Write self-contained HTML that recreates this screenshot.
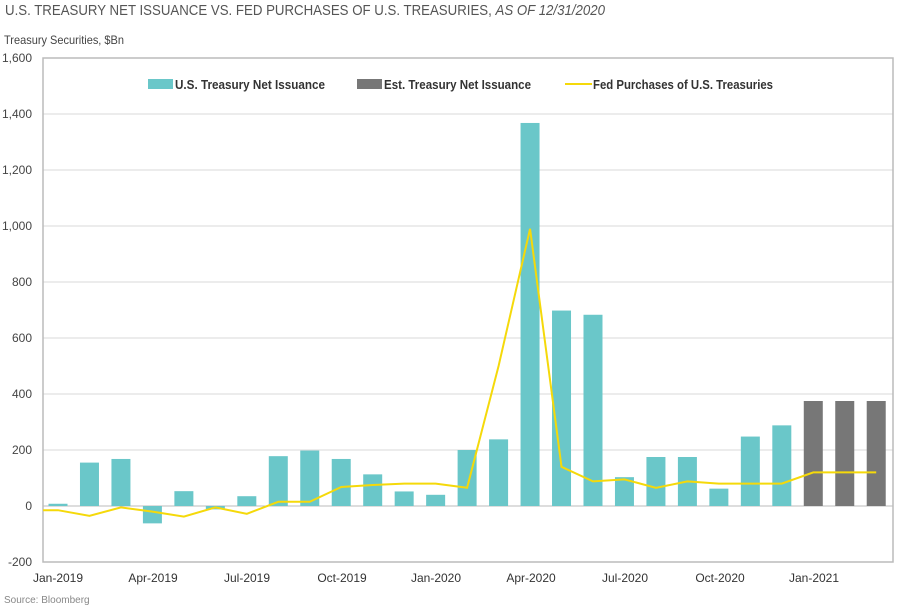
<!DOCTYPE html>
<html><head><meta charset="utf-8"><style>
body{margin:0;background:#fff;}
svg text{font-family:"Liberation Sans",sans-serif;}
</style></head><body>
<svg width="900" height="607" xmlns="http://www.w3.org/2000/svg">
<text x="5" y="15" font-size="14.5" fill="#555" textLength="600" lengthAdjust="spacingAndGlyphs">U.S. TREASURY NET ISSUANCE VS. FED PURCHASES OF U.S. TREASURIES, <tspan font-style="italic">AS OF 12/31/2020</tspan></text>
<text x="4" y="44" font-size="12" fill="#444" textLength="120" lengthAdjust="spacingAndGlyphs">Treasury Securities, $Bn</text>
<g font-size="12" fill="#444" text-anchor="end">
<text x="32" y="62">1,600</text><text x="32" y="118">1,400</text><text x="32" y="174">1,200</text><text x="32" y="230">1,000</text><text x="32" y="286">800</text><text x="32" y="342">600</text><text x="32" y="398">400</text><text x="32" y="454">200</text><text x="32" y="510">0</text><text x="32" y="566">-200</text>
</g>
<g stroke="#d9d9d9" stroke-width="1">
<line x1="43" y1="114" x2="893" y2="114"/><line x1="43" y1="170" x2="893" y2="170"/><line x1="43" y1="226" x2="893" y2="226"/><line x1="43" y1="282" x2="893" y2="282"/><line x1="43" y1="338" x2="893" y2="338"/><line x1="43" y1="394" x2="893" y2="394"/><line x1="43" y1="450" x2="893" y2="450"/>
<line x1="43" y1="506" x2="893" y2="506" stroke="#bbb"/>
</g>
<rect x="43" y="58" width="850" height="504" fill="none" stroke="#bbb" stroke-width="1.5"/>
<g id="bars"></g>
<g font-size="12" fill="#333" text-anchor="middle">
<text x="58" y="582">Jan-2019</text><text x="153" y="582">Apr-2019</text><text x="247" y="582">Jul-2019</text><text x="342" y="582">Oct-2019</text><text x="436" y="582">Jan-2020</text><text x="531" y="582">Apr-2020</text><text x="625" y="582">Jul-2020</text><text x="720" y="582">Oct-2020</text><text x="814" y="582">Jan-2021</text>
</g>
<text x="4" y="603" font-size="10" fill="#888">Source: Bloomberg</text>
<rect x="148" y="79" width="25" height="10" fill="#6ac7c9"/>
<text x="175" y="89" font-size="12.5" font-weight="bold" fill="#333" textLength="150" lengthAdjust="spacingAndGlyphs">U.S. Treasury Net Issuance</text>
<rect x="357" y="79" width="25" height="10" fill="#777"/>
<text x="384" y="89" font-size="12.5" font-weight="bold" fill="#333" textLength="147" lengthAdjust="spacingAndGlyphs">Est. Treasury Net Issuance</text>
<line x1="565" y1="84" x2="592" y2="84" stroke="#f5d90a" stroke-width="2"/>
<text x="593" y="89" font-size="12.5" font-weight="bold" fill="#333" textLength="180" lengthAdjust="spacingAndGlyphs">Fed Purchases of U.S. Treasuries</text>
<polyline id="line" fill="none" stroke="#f5d90a" stroke-width="2"/>
</svg>
<script>
var v=[8,155,168,-62,53,-12,35,178,198,168,113,52,40,200,238,1368,698,683,103,175,175,62,248,288,375,375,375];
var f=[-15,-35,-5,-20,-38,-5,-28,15,15,68,75,80,80,65,500,990,140,88,95,65,88,80,80,80,120,120,120];
var g=document.getElementById('bars'),s='',pts='43,'+(506+15*0.28)+' ';
function Y(d){return 506-d*0.28;}
for(var i=0;i<27;i++){var cx=58+i*31.47,y0=Y(Math.max(v[i],0)),h=Math.abs(v[i])*0.28;
s+='<rect x="'+(cx-9.5)+'" y="'+y0+'" width="19" height="'+h+'" fill="'+(i>=24?'#777':'#6ac7c9')+'"/>';
pts+=cx+','+Y(f[i])+' ';}
g.innerHTML=s;document.getElementById('line').setAttribute('points',pts);
</script>
</body></html>
